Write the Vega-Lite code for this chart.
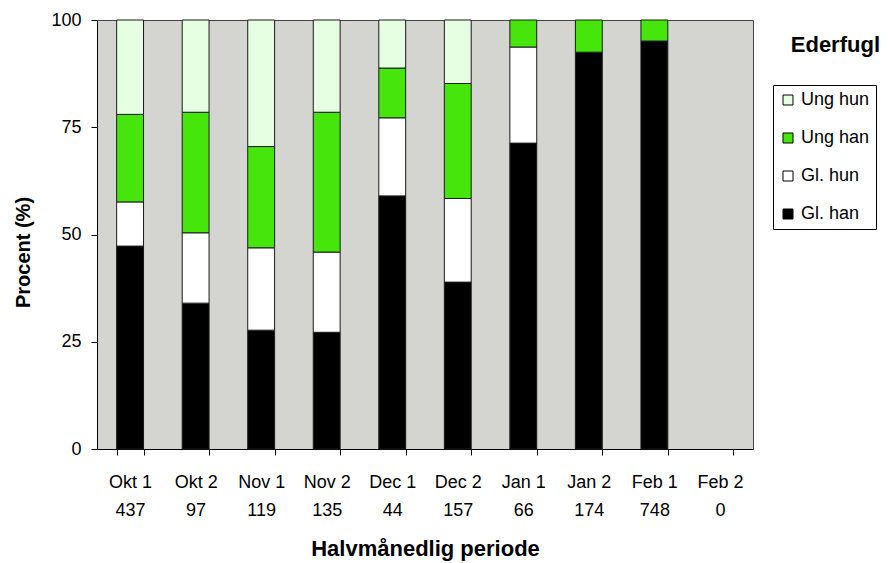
{
  "$schema": "https://vega.github.io/schema/vega-lite/v6.json",
  "width": 656,
  "height": 429,
  "autosize": {"type": "none"},
  "padding": {"left": 97, "top": 20, "right": 135, "bottom": 114},
  "background": "white",
  "title": {
    "text": "Ederfugl",
    "anchor": "end",
    "frame": "group",
    "orient": "top",
    "dx": 127,
    "dy": 50,
    "fontSize": 22,
    "fontWeight": "bold",
    "font": "Liberation Sans",
    "color": "black",
    "letterSpacing": 1.5
  },
  "data": {
    "values": [
      {"p": "Okt 1|437", "g": "Gl. han", "v": 47.3},
      {"p": "Okt 1|437", "g": "Gl. hun", "v": 10.3},
      {"p": "Okt 1|437", "g": "Ung han", "v": 20.4},
      {"p": "Okt 1|437", "g": "Ung hun", "v": 22.0},
      {"p": "Okt 2|97", "g": "Gl. han", "v": 34.0},
      {"p": "Okt 2|97", "g": "Gl. hun", "v": 16.4},
      {"p": "Okt 2|97", "g": "Ung han", "v": 28.1},
      {"p": "Okt 2|97", "g": "Ung hun", "v": 21.5},
      {"p": "Nov 1|119", "g": "Gl. han", "v": 27.7},
      {"p": "Nov 1|119", "g": "Gl. hun", "v": 19.2},
      {"p": "Nov 1|119", "g": "Ung han", "v": 23.6},
      {"p": "Nov 1|119", "g": "Ung hun", "v": 29.5},
      {"p": "Nov 2|135", "g": "Gl. han", "v": 27.2},
      {"p": "Nov 2|135", "g": "Gl. hun", "v": 18.7},
      {"p": "Nov 2|135", "g": "Ung han", "v": 32.6},
      {"p": "Nov 2|135", "g": "Ung hun", "v": 21.5},
      {"p": "Dec 1|44", "g": "Gl. han", "v": 59.0},
      {"p": "Dec 1|44", "g": "Gl. hun", "v": 18.2},
      {"p": "Dec 1|44", "g": "Ung han", "v": 11.6},
      {"p": "Dec 1|44", "g": "Ung hun", "v": 11.2},
      {"p": "Dec 2|157", "g": "Gl. han", "v": 38.9},
      {"p": "Dec 2|157", "g": "Gl. hun", "v": 19.5},
      {"p": "Dec 2|157", "g": "Ung han", "v": 26.8},
      {"p": "Dec 2|157", "g": "Ung hun", "v": 14.8},
      {"p": "Jan 1|66", "g": "Gl. han", "v": 71.3},
      {"p": "Jan 1|66", "g": "Gl. hun", "v": 22.4},
      {"p": "Jan 1|66", "g": "Ung han", "v": 6.3},
      {"p": "Jan 1|66", "g": "Ung hun", "v": 0},
      {"p": "Jan 2|174", "g": "Gl. han", "v": 92.5},
      {"p": "Jan 2|174", "g": "Gl. hun", "v": 0},
      {"p": "Jan 2|174", "g": "Ung han", "v": 7.5},
      {"p": "Jan 2|174", "g": "Ung hun", "v": 0},
      {"p": "Feb 1|748", "g": "Gl. han", "v": 95.1},
      {"p": "Feb 1|748", "g": "Gl. hun", "v": 0},
      {"p": "Feb 1|748", "g": "Ung han", "v": 4.9},
      {"p": "Feb 1|748", "g": "Ung hun", "v": 0},
      {"p": "Feb 2|0", "g": "Gl. han", "v": 0},
      {"p": "Feb 2|0", "g": "Gl. hun", "v": 0},
      {"p": "Feb 2|0", "g": "Ung han", "v": 0},
      {"p": "Feb 2|0", "g": "Ung hun", "v": 0}
    ]
  },
  "transform": [
    {"calculate": "indexof(['Gl. han','Gl. hun','Ung han','Ung hun'], datum.g)", "as": "k"},
    {"filter": "datum.v > 0"}
  ],
  "mark": {"type": "bar", "stroke": "#1a1a1a", "strokeWidth": 1},
  "encoding": {
    "x": {
      "field": "p",
      "type": "nominal",
      "sort": null,
      "scale": {"domain": ["Okt 1|437","Okt 2|97","Nov 1|119","Nov 2|135","Dec 1|44","Dec 2|157","Jan 1|66","Jan 2|174","Feb 1|748","Feb 2|0"], "paddingInner": 0.59, "paddingOuter": 0.3},
      "axis": {
        "title": "Halvmånedlig periode",
        "labelExpr": "split(datum.label, '|')",
        "labelAngle": 0,
        "labelLineHeight": 28,
        "labelPadding": 18,
        "labelBaseline": "top",
        "tickBand": "extent",
        "titlePadding": 19,
        "titleFontSize": 22,
        "titleLetterSpacing": 2
      }
    },
    "y": {
      "field": "v",
      "type": "quantitative",
      "stack": "zero",
      "scale": {"domain": [0, 100], "nice": false},
      "axis": {
        "title": "Procent (%)",
        "values": [0, 25, 50, 75, 100],
        "grid": false,
        "labelPadding": 10,
        "titlePadding": 17,
        "titleY": 232,
        "titleFontSize": 20,
        "titleLetterSpacing": 2
      }
    },
    "color": {
      "field": "g",
      "type": "nominal",
      "scale": {
        "domain": ["Ung hun", "Ung han", "Gl. hun", "Gl. han"],
        "range": ["#E6FFE2", "#46E60C", "#FFFFFF", "#000000"]
      },
      "legend": {
        "title": null,
        "orient": "none",
        "legendX": 676,
        "legendY": 65,
        "strokeColor": "#000000",
        "padding": 6,
        "rowPadding": 20,
        "symbolType": "square",
        "symbolSize": 100,
        "symbolStrokeColor": "#000000",
        "symbolStrokeWidth": 1,
        "labelFontSize": 18,
        "labelFont": "Liberation Sans",
        "labelColor": "black",
        "labelOffset": 4,
        "fillColor": "white"
      }
    },
    "order": {"field": "k", "type": "quantitative"}
  },
  "config": {
    "view": {"fill": "#D4D5D0", "stroke": "#444444", "strokeWidth": 1},
    "axis": {
      "labelFont": "Liberation Sans",
      "labelFontSize": 18,
      "labelColor": "black",
      "titleFont": "Liberation Sans",
      "titleFontWeight": "bold",
      "titleColor": "black",
      "domainColor": "black",
      "tickColor": "black",
      "tickSize": 6
    }
  }
}
